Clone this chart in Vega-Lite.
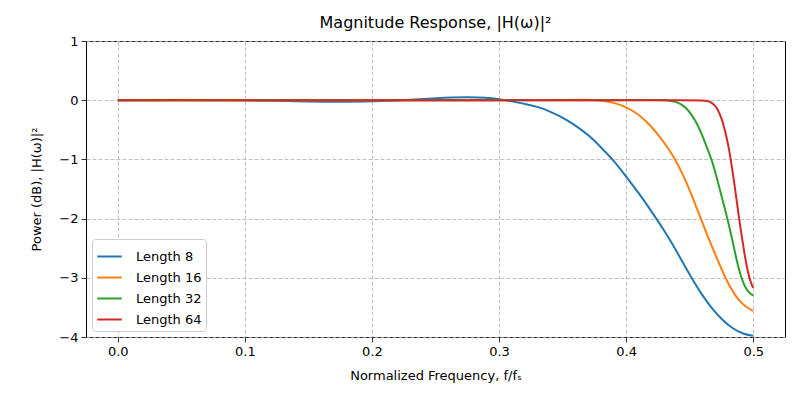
{
  "$schema": "https://vega.github.io/schema/vega-lite/v6.json",
  "width": 699,
  "height": 296,
  "autosize": "none",
  "padding": {"left": 86, "top": 41, "right": 15, "bottom": 63},
  "background": "white",
  "config": {
    "font": "DejaVu Sans",
    "view": {"stroke": "black", "strokeWidth": 1},
    "axis": {
      "domain": false,
      "grid": true,
      "gridColor": "#b0b0b0",
      "gridDash": [4, 2],
      "gridWidth": 0.8,
      "tickColor": "black",
      "tickSize": 5,
      "tickWidth": 0.8,
      "labelFontSize": 13,
      "labelColor": "black",
      "labelPadding": 3,
      "titleFontSize": 13,
      "titleFontWeight": "normal",
      "titleColor": "black"
    },
    "title": {"fontSize": 16, "fontWeight": "normal", "color": "black", "offset": 0}
  },
  "title": {"text": "Magnitude Response, |H(ω)|²", "anchor": "middle"},
  "datasets": {
    "curves": [
      {"f": 0.0, "db": 0.0, "s": "Length 8"},
      {"f": 0.05, "db": 0.003, "s": "Length 8"},
      {"f": 0.1, "db": 0.0, "s": "Length 8"},
      {"f": 0.12, "db": -0.01, "s": "Length 8"},
      {"f": 0.15, "db": -0.025, "s": "Length 8"},
      {"f": 0.18, "db": -0.03, "s": "Length 8"},
      {"f": 0.21, "db": -0.015, "s": "Length 8"},
      {"f": 0.23, "db": 0.005, "s": "Length 8"},
      {"f": 0.25, "db": 0.035, "s": "Length 8"},
      {"f": 0.275, "db": 0.055, "s": "Length 8"},
      {"f": 0.29, "db": 0.045, "s": "Length 8"},
      {"f": 0.3, "db": 0.02, "s": "Length 8"},
      {"f": 0.31, "db": -0.02, "s": "Length 8"},
      {"f": 0.32, "db": -0.06, "s": "Length 8"},
      {"f": 0.332, "db": -0.12, "s": "Length 8"},
      {"f": 0.34, "db": -0.19, "s": "Length 8"},
      {"f": 0.348, "db": -0.27, "s": "Length 8"},
      {"f": 0.356, "db": -0.37, "s": "Length 8"},
      {"f": 0.363, "db": -0.47, "s": "Length 8"},
      {"f": 0.371, "db": -0.6, "s": "Length 8"},
      {"f": 0.379, "db": -0.77, "s": "Length 8"},
      {"f": 0.39, "db": -1.01, "s": "Length 8"},
      {"f": 0.4, "db": -1.29, "s": "Length 8"},
      {"f": 0.41, "db": -1.57, "s": "Length 8"},
      {"f": 0.42, "db": -1.88, "s": "Length 8"},
      {"f": 0.43, "db": -2.2, "s": "Length 8"},
      {"f": 0.437, "db": -2.45, "s": "Length 8"},
      {"f": 0.445, "db": -2.76, "s": "Length 8"},
      {"f": 0.452, "db": -3.02, "s": "Length 8"},
      {"f": 0.46, "db": -3.3, "s": "Length 8"},
      {"f": 0.468, "db": -3.53, "s": "Length 8"},
      {"f": 0.476, "db": -3.72, "s": "Length 8"},
      {"f": 0.484, "db": -3.86, "s": "Length 8"},
      {"f": 0.492, "db": -3.95, "s": "Length 8"},
      {"f": 0.5, "db": -3.98, "s": "Length 8"},

      {"f": 0.0, "db": 0.0, "s": "Length 16"},
      {"f": 0.1, "db": 0.0, "s": "Length 16"},
      {"f": 0.2, "db": 0.0, "s": "Length 16"},
      {"f": 0.3, "db": 0.0, "s": "Length 16"},
      {"f": 0.34, "db": 0.003, "s": "Length 16"},
      {"f": 0.37, "db": 0.01, "s": "Length 16"},
      {"f": 0.38, "db": 0.0, "s": "Length 16"},
      {"f": 0.39, "db": -0.04, "s": "Length 16"},
      {"f": 0.4, "db": -0.11, "s": "Length 16"},
      {"f": 0.41, "db": -0.24, "s": "Length 16"},
      {"f": 0.418, "db": -0.4, "s": "Length 16"},
      {"f": 0.426, "db": -0.6, "s": "Length 16"},
      {"f": 0.432, "db": -0.78, "s": "Length 16"},
      {"f": 0.4388, "db": -1.0, "s": "Length 16"},
      {"f": 0.445, "db": -1.27, "s": "Length 16"},
      {"f": 0.452, "db": -1.62, "s": "Length 16"},
      {"f": 0.4585, "db": -1.99, "s": "Length 16"},
      {"f": 0.463, "db": -2.23, "s": "Length 16"},
      {"f": 0.468, "db": -2.5, "s": "Length 16"},
      {"f": 0.474, "db": -2.8, "s": "Length 16"},
      {"f": 0.478, "db": -3.0, "s": "Length 16"},
      {"f": 0.484, "db": -3.24, "s": "Length 16"},
      {"f": 0.489, "db": -3.39, "s": "Length 16"},
      {"f": 0.494, "db": -3.49, "s": "Length 16"},
      {"f": 0.5, "db": -3.56, "s": "Length 16"},

      {"f": 0.0, "db": 0.0, "s": "Length 32"},
      {"f": 0.1, "db": 0.0, "s": "Length 32"},
      {"f": 0.2, "db": 0.0, "s": "Length 32"},
      {"f": 0.3, "db": 0.0, "s": "Length 32"},
      {"f": 0.4, "db": 0.0, "s": "Length 32"},
      {"f": 0.42, "db": 0.003, "s": "Length 32"},
      {"f": 0.431, "db": 0.0, "s": "Length 32"},
      {"f": 0.438, "db": -0.02, "s": "Length 32"},
      {"f": 0.442, "db": -0.05, "s": "Length 32"},
      {"f": 0.447, "db": -0.12, "s": "Length 32"},
      {"f": 0.452, "db": -0.26, "s": "Length 32"},
      {"f": 0.456, "db": -0.4, "s": "Length 32"},
      {"f": 0.46, "db": -0.6, "s": "Length 32"},
      {"f": 0.464, "db": -0.82, "s": "Length 32"},
      {"f": 0.468, "db": -1.05, "s": "Length 32"},
      {"f": 0.471, "db": -1.28, "s": "Length 32"},
      {"f": 0.474, "db": -1.53, "s": "Length 32"},
      {"f": 0.477, "db": -1.78, "s": "Length 32"},
      {"f": 0.48, "db": -2.03, "s": "Length 32"},
      {"f": 0.484, "db": -2.4, "s": "Length 32"},
      {"f": 0.4865, "db": -2.66, "s": "Length 32"},
      {"f": 0.489, "db": -2.88, "s": "Length 32"},
      {"f": 0.4916, "db": -3.06, "s": "Length 32"},
      {"f": 0.494, "db": -3.17, "s": "Length 32"},
      {"f": 0.497, "db": -3.26, "s": "Length 32"},
      {"f": 0.5, "db": -3.3, "s": "Length 32"},

      {"f": 0.0, "db": 0.0, "s": "Length 64"},
      {"f": 0.1, "db": 0.0, "s": "Length 64"},
      {"f": 0.2, "db": 0.0, "s": "Length 64"},
      {"f": 0.3, "db": 0.0, "s": "Length 64"},
      {"f": 0.4, "db": 0.0, "s": "Length 64"},
      {"f": 0.45, "db": 0.0, "s": "Length 64"},
      {"f": 0.46, "db": -0.003, "s": "Length 64"},
      {"f": 0.464, "db": -0.01, "s": "Length 64"},
      {"f": 0.467, "db": -0.035, "s": "Length 64"},
      {"f": 0.47, "db": -0.09, "s": "Length 64"},
      {"f": 0.472, "db": -0.15, "s": "Length 64"},
      {"f": 0.475, "db": -0.3, "s": "Length 64"},
      {"f": 0.477, "db": -0.45, "s": "Length 64"},
      {"f": 0.479, "db": -0.62, "s": "Length 64"},
      {"f": 0.481, "db": -0.83, "s": "Length 64"},
      {"f": 0.483, "db": -1.1, "s": "Length 64"},
      {"f": 0.485, "db": -1.38, "s": "Length 64"},
      {"f": 0.487, "db": -1.7, "s": "Length 64"},
      {"f": 0.489, "db": -2.02, "s": "Length 64"},
      {"f": 0.491, "db": -2.3, "s": "Length 64"},
      {"f": 0.493, "db": -2.58, "s": "Length 64"},
      {"f": 0.4955, "db": -2.88, "s": "Length 64"},
      {"f": 0.498, "db": -3.08, "s": "Length 64"},
      {"f": 0.5, "db": -3.17, "s": "Length 64"}
    ]
  },
  "data": {"name": "curves"},
  "mark": {"type": "line", "strokeWidth": 2, "interpolate": "basis", "clip": true},
  "encoding": {
    "x": {
      "field": "f",
      "type": "quantitative",
      "scale": {"domain": [-0.025, 0.525], "nice": false, "zero": false},
      "axis": {"values": [0, 0.1, 0.2, 0.3, 0.4, 0.5], "format": ".1f", "title": "Normalized Frequency, f/fₛ", "titlePadding": 11}
    },
    "y": {
      "field": "db",
      "type": "quantitative",
      "scale": {"domain": [-4, 1], "nice": false, "zero": false},
      "axis": {"values": [-4, -3, -2, -1, 0, 1], "format": "d", "title": "Power (dB), |H(ω)|²", "titlePadding": 15}
    },
    "color": {
      "field": "s",
      "type": "nominal",
      "sort": ["Length 8", "Length 16", "Length 32", "Length 64"],
      "scale": {"domain": ["Length 8", "Length 16", "Length 32", "Length 64"], "range": ["#1f77b4", "#ff7f0e", "#2ca02c", "#d62728"]},
      "legend": {
        "title": null,
        "orient": "bottom-left",
        "offset": 6,
        "fillColor": "white",
        "strokeColor": "#cccccc",
        "cornerRadius": 3,
        "padding": 4,
        "symbolType": "stroke",
        "symbolSize": 600,
        "symbolStrokeWidth": 2,
        "labelFontSize": 13,
        "labelColor": "black",
        "labelOffset": 13,
        "rowPadding": 0
      }
    }
  }
}
